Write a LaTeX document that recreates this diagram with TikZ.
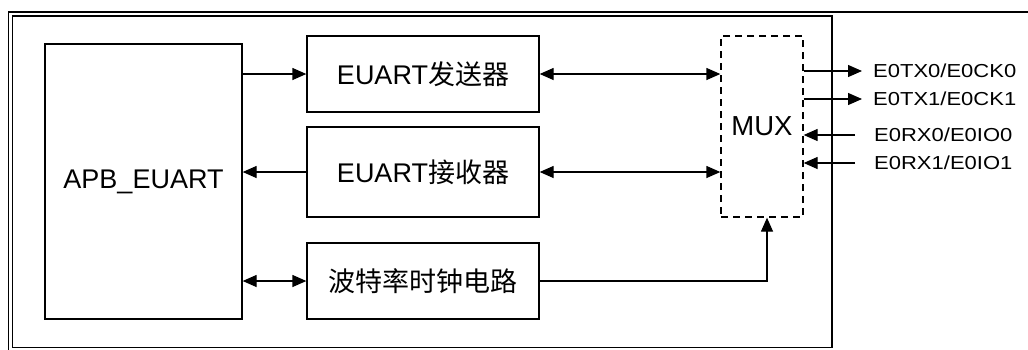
\documentclass[tikz,border=0pt]{standalone}
\usepackage{fontspec}
\setmainfont{Liberation Sans}
\newfontfamily\cjk{Noto Sans CJK SC}
\usetikzlibrary{arrows.meta}
\newcommand{\lbltext}[1]{\scalebox{1.17}[1]{\fontsize{18.8}{22}\selectfont #1}}
\begin{document}
\begin{tikzpicture}[x=1pt,y=-1pt,
  blk/.style={draw, line width=1.3pt, inner sep=0pt, font=\fontsize{27}{32}\selectfont},
  muxbox/.style={draw, line width=1.3pt, inner sep=0pt, dash pattern=on 7pt off 5pt, font=\fontsize{27.5}{32}\selectfont},
  arr/.style={line width=1.3pt, -{Triangle[length=14pt,width=12pt]}},
  barr/.style={line width=1.3pt, {Triangle[length=14pt,width=12pt]}-{Triangle[length=14pt,width=12pt]}},
  lbl/.style={anchor=west, inner sep=0pt}]
\useasboundingbox (0,0) rectangle (1028,349);
% frame
\draw[line width=1.6pt] (1030,12) -- (8.3,12) -- (8.3,352);
\draw[line width=1.3pt] (12.3,16) rectangle (832,347.3);
% blocks
\node[blk, minimum width=197pt, minimum height=275pt] (apb) at (143.5,181.5) {APB\_EUART};
\node[blk, minimum width=232pt, minimum height=76pt] (tx) at (423,74) {EUART{\cjk 发送器}};
\node[blk, minimum width=232pt, minimum height=90pt] (rx) at (423,172) {EUART{\cjk 接收器}};
\node[blk, minimum width=232pt, minimum height=76pt] (clk) at (423,281) {\cjk 波特率时钟电路};
\node[muxbox, minimum width=82pt, minimum height=181pt] (mux) at (762,126.5) {MUX};
% labels
\node[lbl] (l1) at (873,71) {\lbltext{E0TX0/E0CK0}};
\node[lbl] (l2) at (873,99) {\lbltext{E0TX1/E0CK1}};
\node[lbl] (l3) at (874,135) {\lbltext{E0RX0/E0IO0}};
\node[lbl] (l4) at (874,163) {\lbltext{E0RX1/E0IO1}};
% connectors
\draw[arr] (apb.east |- tx.west) -- (tx.west);
\draw[arr] (rx.west) -- (apb.east |- rx.west);
\draw[barr] (apb.east |- clk.west) -- (clk.west);
\draw[barr] (tx.east) -- (mux.west |- tx.east);
\draw[barr] (rx.east) -- (mux.west |- rx.east);
\draw[arr] (clk.east) -| ([xshift=5pt]mux.south);
\draw[arr] (mux.east |- l1.west) -- ([xshift=-11pt]l1.west);
\draw[arr] (mux.east |- l2.west) -- ([xshift=-11pt]l2.west);
\draw[arr] ([xshift=-19pt]l3.west) -- (mux.east |- l3.west);
\draw[arr] ([xshift=-19pt]l4.west) -- (mux.east |- l4.west);
\end{tikzpicture}
\end{document}
